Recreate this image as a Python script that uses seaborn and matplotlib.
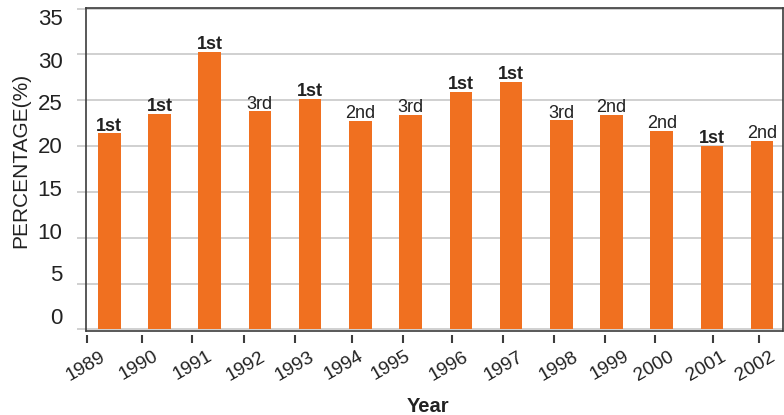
import matplotlib
matplotlib.use("Agg")
import matplotlib.pyplot as plt
import pandas as pd
import seaborn as sns

# --- data -------------------------------------------------------------
years = ["1989", "1990", "1991", "1992", "1993", "1994", "1995",
         "1996", "1997", "1998", "1999", "2000", "2001", "2002"]
percentages = [21.4, 23.55, 30.3, 23.8, 25.15, 22.75, 23.4,
               25.9, 27.0, 22.8, 23.4, 21.7, 20.0, 20.6]
ranks = ["1st", "1st", "1st", "3rd", "1st", "2nd", "3rd",
         "1st", "1st", "3rd", "2nd", "2nd", "1st", "2nd"]
y_ticks = [0, 5, 10, 15, 20, 25, 30, 35]

# --- layout / style ---------------------------------------------------
BAR_COLOR = "#F07020"
GRID_COLOR = "#c4c4c4"
AXIS_COLOR = "#3c3c3c"
TEXT_COLOR = "#222222"
# year tick marks and the (rotated) year labels sit slightly off the
# bar centres, each on its own set of positions
year_tick_pos = [-0.448, 0.647, 1.654, 2.690, 3.699, 4.840, 5.855,
                 6.831, 7.834, 8.861, 9.871, 10.866, 12.027, 12.943]
year_label_pos = [-0.183, 0.872, 1.947, 3.002, 3.977, 4.953, 5.889,
                  7.043, 8.138, 9.233, 10.229, 11.125, 12.161, 13.155]

sns.set_theme(style="white")
plt.rcParams["font.family"] = ["Liberation Sans", "DejaVu Sans"]
plt.rcParams["text.color"] = TEXT_COLOR

fig = plt.figure(figsize=(7.84, 4.15), dpi=100)
ax = fig.add_axes([0.1097, 0.2031, 0.8886, 0.7783])

df = pd.DataFrame({"Year": years, "Percentage": percentages})
sns.barplot(data=df, x="Year", y="Percentage", color=BAR_COLOR,
            saturation=1, width=0.45, linewidth=0, edgecolor=BAR_COLOR,
            ax=ax, zorder=3)

ax.set_xlim(-0.462, 13.408)
ax.set_ylim(-0.15, 35.1)

# rank labels over each bar
texts = ax.bar_label(ax.containers[0], labels=ranks, padding=-1,
                     fontsize=13, color=TEXT_COLOR)
for t, r in zip(texts, ranks):
    if r == "1st":
        t.set_fontweight("bold")

# horizontal grid, extending a little past the left edge
ax.set_yticks(y_ticks)
ax.yaxis.grid(True, color=GRID_COLOR, linewidth=1.1)
ax.xaxis.grid(False)
ax.set_axisbelow(True)
ax.tick_params(axis="y", which="both", left=True, length=6.5, width=1.1,
               color=GRID_COLOR, labelleft=False)

# frame
for side in ("left", "top", "right"):
    ax.spines[side].set_color(AXIS_COLOR)
    ax.spines[side].set_linewidth(1.2)
ax.spines["bottom"].set_color("none")
ax.spines["bottom"].set_position(("outward", 3.3))
ax.plot([0, 1], [0, 0], transform=ax.transAxes, color=AXIS_COLOR,
        linewidth=1.2, clip_on=False, zorder=5)

# year tick marks (minor) and year labels (major, no mark)
ax.set_xticks(year_tick_pos, minor=True)
ax.tick_params(axis="x", which="minor", bottom=True, length=5.8,
               width=1.5, color=AXIS_COLOR, labelbottom=False)
ax.set_xticks(year_label_pos, labels=years)
ax.tick_params(axis="x", which="major", bottom=True, length=0,
               pad=9.2, labelsize=13.8, labelcolor=TEXT_COLOR)
for lab in ax.get_xticklabels():
    lab.set_rotation(30)
    lab.set_ha("right")
    lab.set_va("top")
    lab.set_rotation_mode("anchor")

ax.set_xlabel("Year", fontsize=14.5, fontweight="bold", color=TEXT_COLOR)
ax.xaxis.set_label_coords(0.491, -0.205)
ax.set_ylabel("PERCENTAGE(%)", fontsize=15, color=TEXT_COLOR)
ax.yaxis.set_label_coords(-0.0797, 0.5285)

# value scale labels on the left
scale = ax.twinx()
scale.set_ylim(-1.716, 36.09)
scale.set_yticks(y_ticks)
scale.yaxis.tick_left()
scale.tick_params(axis="y", length=0, pad=17, labelsize=16,
                  labelcolor=TEXT_COLOR)
for side in scale.spines:
    scale.spines[side].set_color("none")
scale.grid(False)

fig.savefig("out.png", dpi=100)
